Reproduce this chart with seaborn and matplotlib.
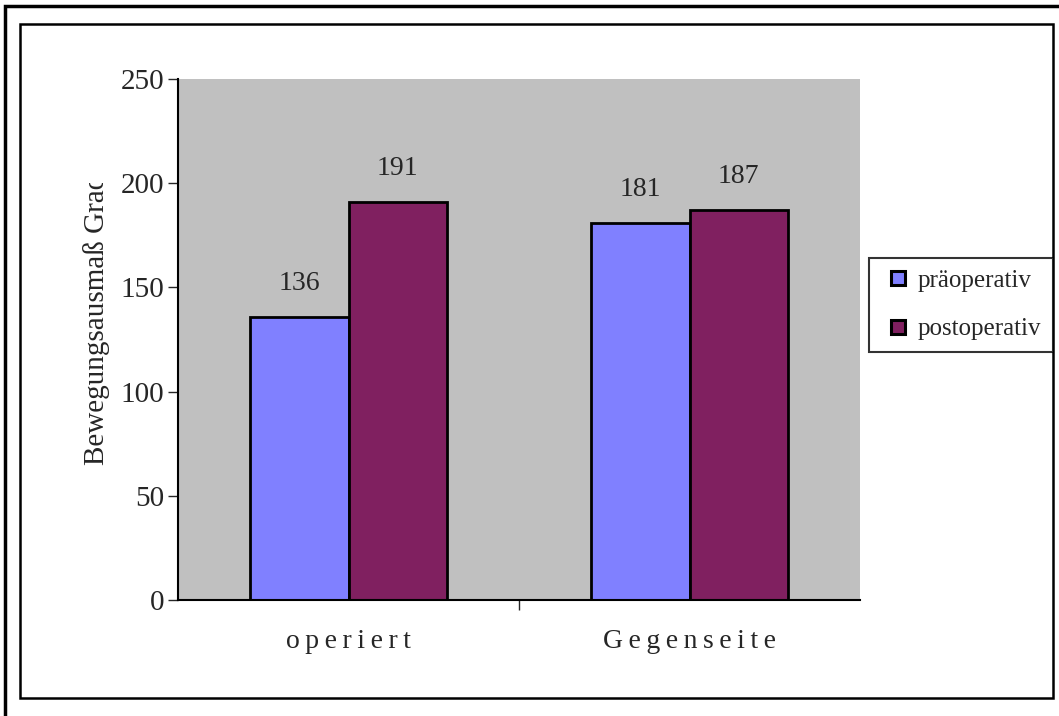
import matplotlib
matplotlib.use("Agg")
import matplotlib.pyplot as plt
import matplotlib.patches as mpatches
from matplotlib.lines import Line2D
from matplotlib.transforms import Bbox
import pandas as pd
import seaborn as sns

categories = ["operiert", "Gegenseite"]
series = ["präoperativ", "postoperativ"]
pre_values = [136, 181]
post_values = [191, 187]
y_ticks = [0, 50, 100, 150, 200, 250]
y_label = "Bewegungsausmaß Grad"

colors = ["#8080FF", "#802060"]

df = pd.DataFrame({
    "Seite": categories * 2,
    "Zeitpunkt": [series[0]] * 2 + [series[1]] * 2,
    "Wert": pre_values + post_values,
})

sns.set_style("white")
plt.rcParams["font.family"] = ["Liberation Serif", "DejaVu Serif"]

fig = plt.figure(figsize=(10.59, 7.16), dpi=100)
W, H = 1059, 716
ax = fig.add_axes([178 / W, 1 - 600 / H, (860 - 178) / W, (600 - 79) / H])
ax.set_facecolor("#C0C0C0")

sns.barplot(data=df, x="Seite", y="Wert", hue="Zeitpunkt", palette=colors,
            saturation=1, width=0.575, edgecolor="black", linewidth=2,
            errorbar=None, ax=ax)

for cont in ax.containers:
    ax.bar_label(cont, padding=15, fontsize=20)

ax.set_xlim(-0.5, 1.5)
ax.set_ylim(0, 250)
ax.set_yticks(y_ticks)
ax.tick_params(axis="y", labelsize=21, length=7, width=1, direction="out", left=True, pad=3)
ax.set_xticks([0.5])
ax.set_xticklabels([""])
ax.tick_params(axis="x", length=7, width=1, direction="out", bottom=True)
for s in ["top", "right"]:
    ax.spines[s].set_visible(False)
for s in ["left", "bottom"]:
    ax.spines[s].set_color("black")
    ax.spines[s].set_linewidth(1.5)
ax.set_xlabel("")
ax.set_ylabel("")

thin = "\u2009"
for i, c in enumerate(categories):
    ax.text(i, -0.055, thin.join(c), transform=ax.get_xaxis_transform(),
            ha="center", va="top", fontsize=20)

# axis title, clipped at the top like in the original
lab = fig.text(97 / W, 1 - 465 / H, y_label, rotation=90, ha="center",
               va="bottom", fontsize=21)
lab.set_clip_box(Bbox([[0, 0], [W, H - 183]]))
lab.set_clip_on(True)

ax.legend_.remove()
handles = [Line2D([], [], linestyle="none", marker="s", markersize=10,
                  markerfacecolor=col, markeredgecolor="black",
                  markeredgewidth=2.2) for col in colors]
leg = fig.legend(handles, series, loc="upper left",
                 bbox_to_anchor=(869 / W, 1 - 258 / H), frameon=True,
                 fancybox=False, edgecolor="black", fontsize=18,
                 handlelength=1.45, handletextpad=0.05,
                 labelspacing=1.05, borderpad=0.45, borderaxespad=0)
leg.get_frame().set_linewidth(1.5)

# frames around the chart (outer one runs off the right and bottom edges)
fig.patches.append(mpatches.Rectangle((5 / W, -20 / H), 1080 / W, 730 / H,
                                      transform=fig.transFigure, fill=False,
                                      edgecolor="black", linewidth=2.5))
fig.patches.append(mpatches.Rectangle((20 / W, 18 / H), 1033 / W, 674 / H,
                                      transform=fig.transFigure, fill=False,
                                      edgecolor="black", linewidth=1.8))

fig.savefig("out.png", dpi=100)
